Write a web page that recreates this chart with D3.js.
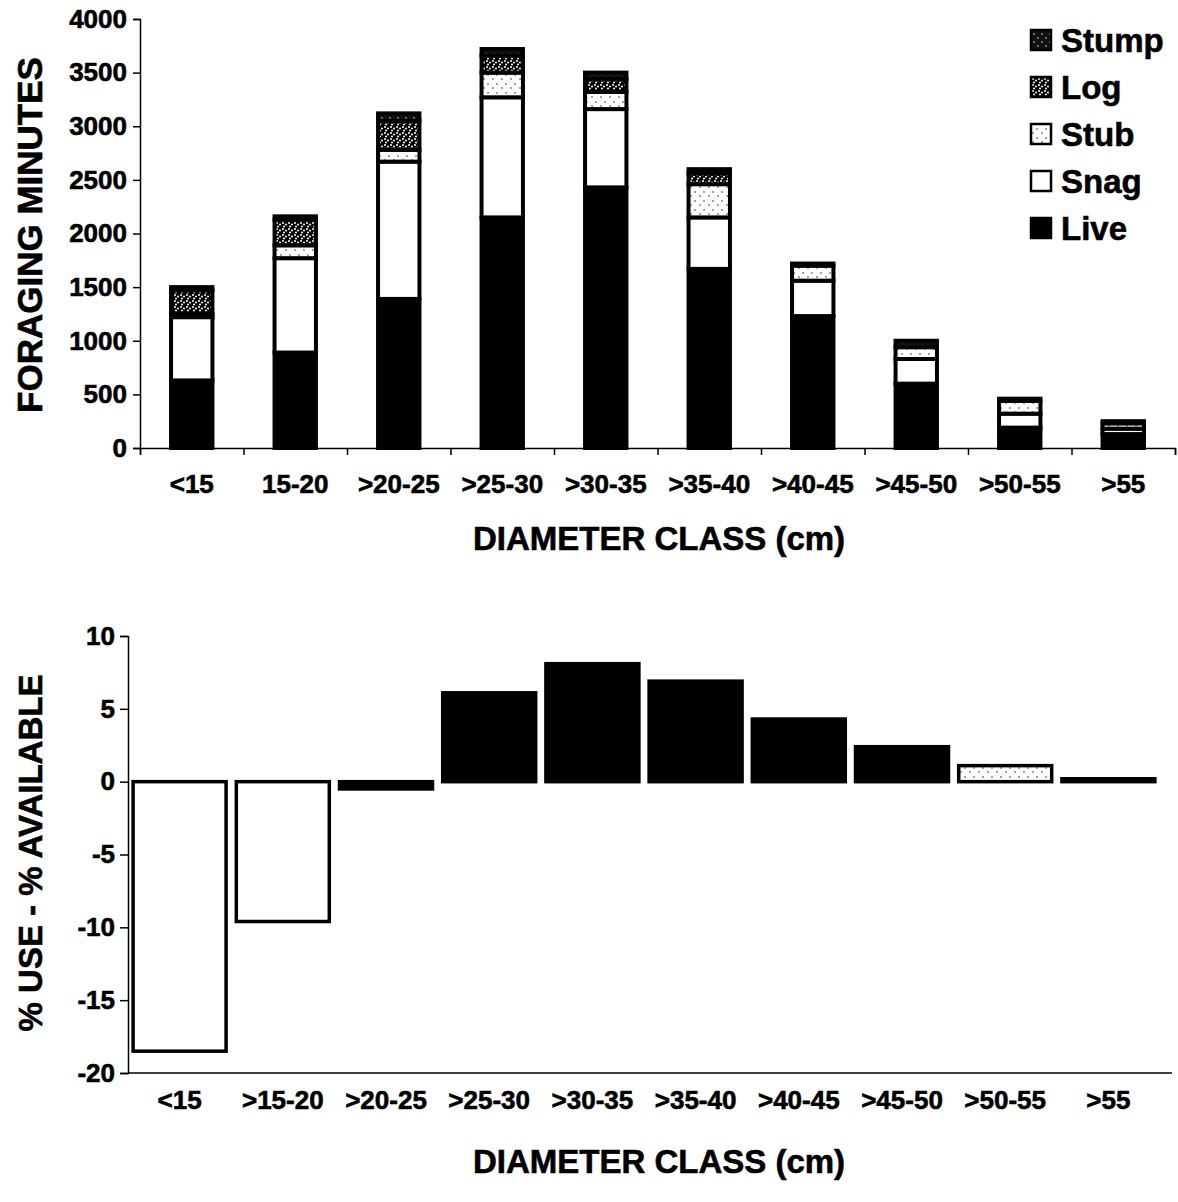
<!DOCTYPE html>
<html><head><meta charset="utf-8">
<script src="https://cdn.jsdelivr.net/npm/d3@7"></script>
<style>
html,body{margin:0;padding:0;background:#fff;}
svg{display:block;}
text{font-family:"Liberation Sans",Arial,sans-serif;font-weight:bold;fill:#000;stroke:#000;stroke-width:0.6px;}
</style></head>
<body>
<svg id="chart" width="1178" height="1202"></svg>
<script>
// ---- Data ----
const topCategories = ["<15","15-20",">20-25",">25-30",">30-35",">35-40",">40-45",">45-50",">50-55",">55"];
const seriesKeys = ["Live","Snag","Stub","Log","Stump"];
const liveVals  = [630, 890, 1390, 2150, 2430, 1670, 1230, 600, 190, 130];
const snagVals  = [590, 880, 1280, 1120, 730, 480, 330, 230, 130, 50];
const stubVals  = [30, 120, 110, 230, 160, 310, 140, 110, 120, 50];
const logVals   = [220, 240, 270, 160, 120, 100, 0, 0, 0, 0];
const stumpVals = [30, 30, 70, 60, 60, 40, 20, 60, 20, 20];
const topTicks = [0,500,1000,1500,2000,2500,3000,3500,4000];
const legendOrder = ["Stump","Log","Stub","Snag","Live"];

const bottomCategories = ["<15",">15-20",">20-25",">25-30",">30-35",">35-40",">40-45",">45-50",">50-55",">55"];
const diffVals = [-18.5, -9.6, -0.5, 6.1, 8.1, 6.9, 4.3, 2.4, 1.1, 0.2];
const diffFill = ["white","white","black","black","black","black","black","black","stub","black"];
const bottomTicks = [-20,-15,-10,-5,0,5,10];

const svg = d3.select("#chart");
const defs = svg.append("defs");

// patterns
function pattern(id, size, bg, dotColor, dots, r){
  const p = defs.append("pattern").attr("id", id).attr("patternUnits","userSpaceOnUse")
    .attr("width", size).attr("height", size);
  p.append("rect").attr("width", size).attr("height", size).attr("fill", bg);
  dots.forEach(d => p.append("circle").attr("cx", d[0]).attr("cy", d[1]).attr("r", r).attr("fill", dotColor));
}
pattern("pStub", 9, "#fff", "#000", [[2,3],[7,7]], 0.7);
pattern("pLog", 6, "#000", "#fff", [[1,1],[4,2.5],[2,4.5]], 1.0);
pattern("pStump", 8, "#111", "#fff", [[2,2],[6,6]], 0.7);

const fills = {Live:"#000", Snag:"#fff", Stub:"url(#pStub)", Log:"url(#pLog)", Stump:"url(#pStump)"};
const fmt = d => String(d);

// ---------------- TOP CHART ----------------
const tX0 = 140, tX1 = 1175, tY0 = 448, tY1 = 19;
const xTop = d3.scaleBand().domain(topCategories).range([tX0, tX1]).paddingInner(0.6).paddingOuter(0.3);
const yTop = d3.scaleLinear().domain([0, 4000]).range([tY0, tY1]);

const rows = topCategories.map((c,i) => ({cat:c, Live:liveVals[i], Snag:snagVals[i], Stub:stubVals[i], Log:logVals[i], Stump:stumpVals[i]}));
const stacked = d3.stack().keys(seriesKeys)(rows);

const gTop = svg.append("g");
stacked.forEach(layer => {
  gTop.append("g").selectAll("rect")
    .data(layer.filter(d => d[1] - d[0] > 0))
    .join("rect")
    .attr("x", d => xTop(d.data.cat))
    .attr("width", xTop.bandwidth())
    .attr("y", d => yTop(d[1]))
    .attr("height", d => yTop(d[0]) - yTop(d[1]))
    .attr("fill", fills[layer.key])
    .attr("stroke", "#000")
    .attr("stroke-width", 4);
});

// y axis
const yAxisTop = svg.append("g").attr("transform", `translate(${tX0},0)`)
  .call(d3.axisLeft(yTop).tickValues(topTicks).tickSize(7).tickPadding(6).tickFormat(fmt));
yAxisTop.selectAll("text").style("font-size","26px");
yAxisTop.selectAll("line,path").attr("stroke","#000").attr("stroke-width",1.5);

// x axis: boundary ticks
const bTop = d3.scaleLinear().domain([0,10]).range([tX0, tX1]);
const xAxisTop = svg.append("g").attr("transform", `translate(0,${tY0})`)
  .call(d3.axisBottom(bTop).ticks(10).tickSize(7).tickFormat(""));
xAxisTop.selectAll("line,path").attr("stroke","#000").attr("stroke-width",1.5);
svg.append("g").attr("transform", `translate(0,${tY0})`)
  .call(d3.axisBottom(xTop).tickSize(0).tickPadding(27))
  .call(g => g.select(".domain").remove())
  .selectAll("text").style("font-size","26px");

svg.append("text").attr("x", 659).attr("y", 550).attr("text-anchor","middle")
  .style("font-size","33px").text("DIAMETER CLASS (cm)");
svg.append("text").attr("transform","translate(42,235) rotate(-90)").attr("text-anchor","middle")
  .style("font-size","35px").text("FORAGING MINUTES");

// legend
const legend = svg.append("g");
legendOrder.forEach((k,i) => {
  const cy = 40 + i*47;
  legend.append("rect").attr("x", 1031).attr("y", cy-10).attr("width", 20).attr("height", 20)
    .attr("fill", fills[k]).attr("stroke","#000").attr("stroke-width", 2.5);
  legend.append("text").attr("x", 1061).attr("y", cy+12).style("font-size","33px").text(k);
});

// ---------------- BOTTOM CHART ----------------
const bX0 = 128, bX1 = 1160, bY0 = 1073, bY1 = 636;
const xBot = d3.scaleBand().domain(bottomCategories).range([bX0, bX1]).paddingInner(0.07).paddingOuter(0.035);
const yBot = d3.scaleLinear().domain([-20, 10]).range([bY0, bY1]);

svg.append("g").selectAll("rect")
  .data(diffVals.map((v,i) => ({cat:bottomCategories[i], v, f:diffFill[i]})))
  .join("rect")
  .attr("x", d => xBot(d.cat) + 1.5)
  .attr("width", xBot.bandwidth() - 3)
  .attr("y", d => yBot(Math.max(0, d.v)))
  .attr("height", d => Math.abs(yBot(d.v) - yBot(0)))
  .attr("fill", d => d.f === "stub" ? "url(#pStub)" : d.f)
  .attr("stroke", "#000")
  .attr("stroke-width", 3.5);

const yAxisBot = svg.append("g").attr("transform", `translate(${bX0},0)`)
  .call(d3.axisLeft(yBot).tickValues(bottomTicks).tickSize(8).tickPadding(5).tickFormat(fmt));
yAxisBot.selectAll("text").style("font-size","26px");
yAxisBot.selectAll("line,path").attr("stroke","#000").attr("stroke-width",1.5);

const xAxisBot = svg.append("g").attr("transform", `translate(0,${bY0})`)
  .call(d3.axisBottom(xBot).tickSize(0).tickPadding(18));
xAxisBot.select(".domain").remove();
xAxisBot.selectAll("text").style("font-size","26px");
svg.append("line").attr("x1", bX0).attr("x2", 1172).attr("y1", bY0).attr("y2", bY0)
  .attr("stroke","#000").attr("stroke-width",1.5);

svg.append("text").attr("x", 659).attr("y", 1173).attr("text-anchor","middle")
  .style("font-size","33px").text("DIAMETER CLASS (cm)");
svg.append("text").attr("transform","translate(42,853) rotate(-90)").attr("text-anchor","middle")
  .style("font-size","33px").text("% USE - % AVAILABLE");
</script>
</body></html>
